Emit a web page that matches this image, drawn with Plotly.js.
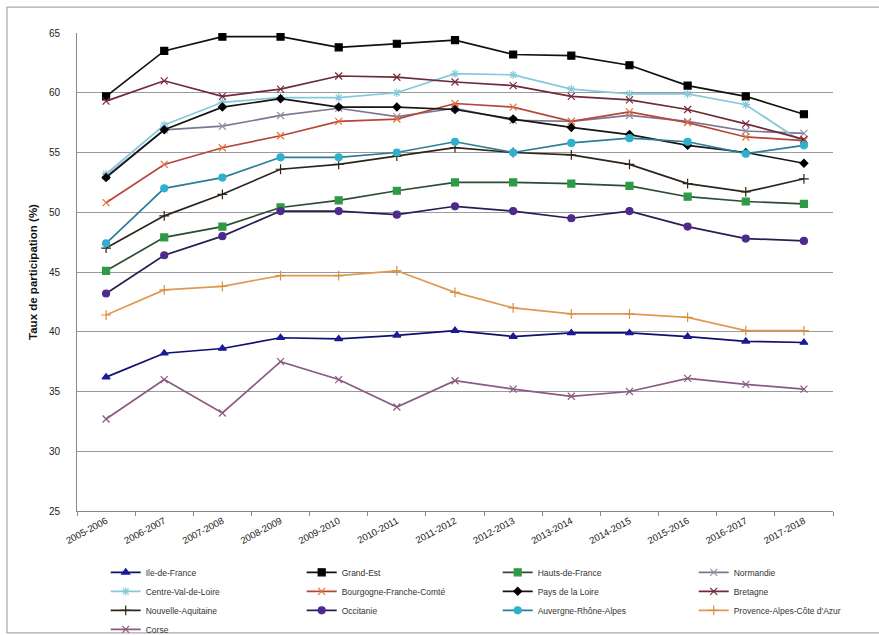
<!DOCTYPE html>
<html>
<head>
<meta charset="utf-8">
<script src="https://cdn.plot.ly/plotly-3.0.1.min.js"></script>
<style>
  html, body { margin: 0; padding: 0; background: #ffffff; }
  #chart { width: 879px; height: 635px; }
</style>
</head>
<body>
<div id="chart"></div>
<script>
// School years on the x axis
const years = ["2005-2006", "2006-2007", "2007-2008", "2008-2009", "2009-2010", "2010-2011",
  "2011-2012", "2012-2013", "2013-2014", "2014-2015", "2015-2016", "2016-2017", "2017-2018"];

// Participation rate (%) per region
const ileDeFrance = [36.2, 38.2, 38.6, 39.5, 39.4, 39.7, 40.1, 39.6, 39.9, 39.9, 39.6, 39.2, 39.1];
const grandEst = [59.7, 63.5, 64.7, 64.7, 63.8, 64.1, 64.4, 63.2, 63.1, 62.3, 60.6, 59.7, 58.2];
const hautsDeFrance = [45.1, 47.9, 48.8, 50.4, 51.0, 51.8, 52.5, 52.5, 52.4, 52.2, 51.3, 50.9, 50.7];
const normandie = [53.0, 56.9, 57.2, 58.1, 58.7, 58.0, 58.7, 57.7, 57.6, 58.1, 57.6, 56.8, 56.6];
const centreValDeLoire = [53.2, 57.3, 59.2, 59.6, 59.6, 60.0, 61.6, 61.5, 60.3, 59.9, 59.9, 59.0, 55.8];
const bourgogneFrancheComte = [50.8, 54.0, 55.4, 56.4, 57.6, 57.8, 59.1, 58.8, 57.6, 58.4, 57.5, 56.3, 56.0];
const paysDeLaLoire = [52.9, 56.9, 58.8, 59.5, 58.8, 58.8, 58.6, 57.8, 57.1, 56.5, 55.6, 55.0, 54.1];
const bretagne = [59.3, 61.0, 59.7, 60.3, 61.4, 61.3, 60.9, 60.6, 59.7, 59.4, 58.6, 57.4, 56.1];
const nouvelleAquitaine = [47.0, 49.7, 51.5, 53.6, 54.0, 54.7, 55.4, 55.0, 54.8, 54.0, 52.4, 51.7, 52.8];
const occitanie = [43.2, 46.4, 48.0, 50.1, 50.1, 49.8, 50.5, 50.1, 49.5, 50.1, 48.8, 47.8, 47.6];
const auvergneRhoneAlpes = [47.4, 52.0, 52.9, 54.6, 54.6, 55.0, 55.9, 55.0, 55.8, 56.2, 55.9, 54.9, 55.6];
const paca = [41.4, 43.5, 43.8, 44.7, 44.7, 45.1, 43.3, 42.0, 41.5, 41.5, 41.2, 40.1, 40.1];
const corse = [32.7, 36.0, 33.2, 37.5, 36.0, 33.7, 35.9, 35.2, 34.6, 35.0, 36.1, 35.6, 35.2];

const regionNames = ["Ile-de-France", "Grand-Est", "Hauts-de-France", "Normandie",
  "Centre-Val-de-Loire", "Bourgogne-Franche-Comté", "Pays de la Loire", "Bretagne",
  "Nouvelle-Aquitaine", "Occitanie", "Auvergne-Rhône-Alpes", "Provence-Alpes-Côte d'Azur", "Corse"];
const regionValues = [ileDeFrance, grandEst, hautsDeFrance, normandie, centreValDeLoire,
  bourgogneFrancheComte, paysDeLaLoire, bretagne, nouvelleAquitaine, occitanie,
  auvergneRhoneAlpes, paca, corse];

// Line colour, marker colour, marker symbol, marker size for each region
const styles = [
  { line: "#10106e", mark: "#1a1a9a", symbol: "triangle-up", size: 7 },
  { line: "#111111", mark: "#000000", symbol: "square", size: 7 },
  { line: "#2d4d33", mark: "#2e9a45", symbol: "square", size: 7 },
  { line: "#7f7590", mark: "#9a8fb0", symbol: "x-thin-open", size: 7 },
  { line: "#86c8dc", mark: "#86c8dc", symbol: "asterisk-open", size: 7 },
  { line: "#b4473a", mark: "#e8713e", symbol: "x-thin-open", size: 7 },
  { line: "#151515", mark: "#000000", symbol: "diamond", size: 6 },
  { line: "#6e2a36", mark: "#7a2a3a", symbol: "x-thin-open", size: 7 },
  { line: "#2f2419", mark: "#2f2419", symbol: "cross-thin-open", size: 7 },
  { line: "#2a1d55", mark: "#4e2a8e", symbol: "circle", size: 7 },
  { line: "#2d7d96", mark: "#2fb0cc", symbol: "circle", size: 7 },
  { line: "#e09a50", mark: "#d89040", symbol: "cross-thin-open", size: 7 },
  { line: "#8a5a82", mark: "#8a5a82", symbol: "x-thin-open", size: 7 }
];

const traces = regionNames.map((name, i) => ({
  type: "scatter",
  mode: "lines+markers",
  name: name,
  x: years,
  y: regionValues[i],
  line: { color: styles[i].line, width: 1.7 },
  marker: {
    color: styles[i].mark,
    symbol: styles[i].symbol,
    size: styles[i].size,
    line: { color: styles[i].mark, width: 1.2 }
  }
}));

const font = "'Liberation Sans', Arial, sans-serif";

const layout = {
  width: 879,
  height: 635,
  paper_bgcolor: "#ffffff",
  plot_bgcolor: "#ffffff",
  margin: { l: 77, r: 46, t: 33, b: 124, autoexpand: false },
  font: { family: font, size: 10, color: "#222222" },
  showlegend: true,
  xaxis: {
    type: "category",
    range: [-0.5, 12.5],
    showgrid: false,
    showline: true,
    linecolor: "#888888",
    linewidth: 1,
    ticks: "outside",
    tickson: "boundaries",
    ticklen: 4,
    tickcolor: "#888888",
    tickangle: -28,
    tickfont: { family: font, size: 9.5, color: "#222222" },
    zeroline: false
  },
  yaxis: {
    range: [25, 65],
    dtick: 5,
    tick0: 25,
    showgrid: true,
    gridcolor: "#999999",
    gridwidth: 1,
    showline: true,
    linecolor: "#888888",
    zeroline: false,
    ticks: "",
    ticklabelstandoff: 14,
    tickfont: { family: font, size: 10, color: "#222222" },
    title: {
      text: "<b>Taux de participation (%)</b>",
      font: { family: font, size: 11.5, color: "#111111" },
      standoff: 8
    }
  },
  legend: {
    orientation: "h",
    x: 1.075,
    xanchor: "right",
    y: -0.098,
    yanchor: "top",
    entrywidth: 151,
    entrywidthmode: "pixels",
    tracegroupgap: 0,
    itemwidth: 30,
    font: { family: font, size: 8.5, color: "#333333" },
    bgcolor: "rgba(0,0,0,0)"
  },
  shapes: [{
    type: "rect",
    xref: "paper",
    yref: "paper",
    x0: -0.0926, x1: 1.07,
    y0: -0.255, y1: 1.054,
    line: { color: "#aaaaaa", width: 1.2 },
    fillcolor: "rgba(0,0,0,0)",
    layer: "below"
  }]
};

Plotly.newPlot("chart", traces, layout, { displayModeBar: false, staticPlot: true });
</script>
</body>
</html>
